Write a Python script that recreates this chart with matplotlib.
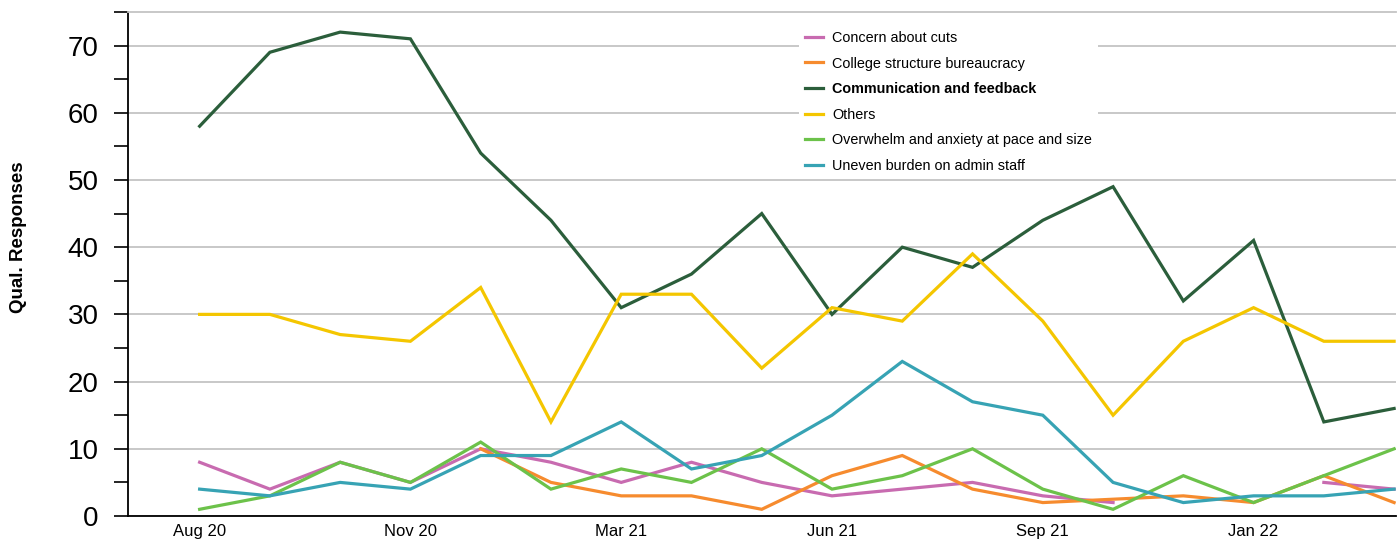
import numpy as np
import matplotlib
matplotlib.use("Agg")
import matplotlib.pyplot as plt

plt.rcParams['font.family'] = ['Liberation Sans', 'DejaVu Sans']

periods = ["Aug 20", "", "", "Nov 20", "", "", "Mar 21", "", "", "Jun 21", "", "",
           "Sep 21", "", "", "Jan 22", "", ""]

concern_cuts = [8, 4, 8, 5, 10, 8, 5, 8, 5, 3, 4, 5, 3, 2, np.nan, np.nan, 5, 4]
college_structure = [np.nan, np.nan, np.nan, np.nan, 10, 5, 3, 3, 1, 6, 9, 4, 2, 2.5, 3, 2, 6, 2]
communication = [58, 69, 72, 71, 54, 44, 31, 36, 45, 30, 40, 37, 44, 49, 32, 41, 14, 16]
others = [30, 30, 27, 26, 34, 14, 33, 33, 22, 31, 29, 39, 29, 15, 26, 31, 26, 26]
overwhelm = [1, 3, 8, 5, 11, 4, 7, 5, 10, 4, 6, 10, 4, 1, 6, 2, 6, 10]
uneven_burden = [4, 3, 5, 4, 9, 9, 14, 7, 9, 15, 23, 17, 15, 5, 2, 3, 3, 4]

series = [
    ("Concern about cuts", concern_cuts, "#c86bb0"),
    ("College structure bureaucracy", college_structure, "#f68b2e"),
    ("Communication and feedback", communication, "#2b5e3b"),
    ("Others", others, "#f4c600"),
    ("Overwhelm and anxiety at pace and size", overwhelm, "#6cc24a"),
    ("Uneven burden on admin staff", uneven_burden, "#37a3b4"),
]

fig = plt.figure(figsize=(14, 5.43), dpi=100)
ax = fig.add_axes([0.0914, 0.0497, 0.9054, 0.9283])

x = np.arange(len(periods))
for name, vals, col in series:
    ax.plot(x, vals, color=col, lw=2.3, label=name, zorder=3, solid_joinstyle='miter')

ax.set_xlim(-1.02, 17.02)
ax.set_ylim(0, 75)

ax.set_yticks(np.arange(0, 71, 10))
ax.set_yticks(np.arange(5, 76, 10), minor=True)
ax.tick_params(axis='y', which='both', direction='out', length=10, width=1.2,
               labelsize=20, pad=11, color='black')
ax.grid(axis='y', which='major', color='#c4c4c4', lw=1.3, zorder=0)

tick_pos = [i for i, p in enumerate(periods) if p]
ax.set_xticks(tick_pos)
ax.set_xticklabels([periods[i] for i in tick_pos], fontsize=12)
ax.tick_params(axis='x', length=0, pad=6)

ax.spines['right'].set_visible(False)
ax.spines['top'].set_color('#c4c4c4')
ax.spines['top'].set_linewidth(1.3)
ax.spines['left'].set_linewidth(1.3)
ax.spines['bottom'].set_linewidth(1.3)

ax.set_ylabel("Qual. Responses", fontsize=13.5, fontweight='bold')
ax.yaxis.set_label_coords(-0.080, 0.554)

leg = ax.legend(loc='upper left', bbox_to_anchor=(0.524, 0.988), frameon=True,
                facecolor='white', edgecolor='none', framealpha=1, fontsize=10.4,
                handlelength=1.25, handletextpad=0.6, labelspacing=0.8,
                borderpad=0.4, fancybox=False)
leg.set_zorder(5)
for t in leg.get_texts():
    if t.get_text() == "Communication and feedback":
        t.set_fontweight('bold')

fig.savefig("out.png", dpi=100)
